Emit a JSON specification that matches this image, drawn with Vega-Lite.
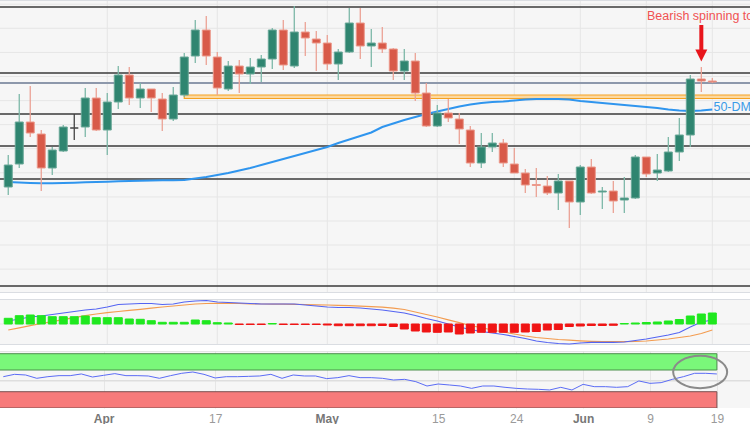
{
"$schema": "https://vega.github.io/schema/vega-lite/v6.json",
"padding": 0,
"background": "#ffffff",
"spacing": 6,
"config": {
  "view": {"fill": "#f6f6f6", "stroke": null},
  "axis": {"gridColor": "#e6e6e6", "gridWidth": 1, "title": null, "domain": false, "ticks": false},
  "font": "Liberation Sans"
},
"datasets": {"d": [
{"i":0,"o":1.3226,"h":1.3290,"l":1.3210,"c":1.3270,"ma":1.3236,"m":0.0003,"s":-0.0006,"hg":0.00057,"r":57.7},
{"i":1,"o":1.3272,"h":1.3412,"l":1.3264,"c":1.3356,"ma":1.3235,"m":0.0005,"s":-0.00038,"hg":0.00083,"r":62.0},
{"i":2,"o":1.3356,"h":1.3428,"l":1.3326,"c":1.3334,"ma":1.3234,"m":0.0007,"s":-0.00017,"hg":0.0009,"r":60.8},
{"i":3,"o":1.3332,"h":1.3340,"l":1.3218,"c":1.3264,"ma":1.32334,"m":0.0008,"s":0.00005,"hg":0.00083,"r":54.7},
{"i":4,"o":1.3264,"h":1.3306,"l":1.3250,"c":1.3300,"ma":1.32334,"m":0.00095,"s":0.00024,"hg":0.00073,"r":57.7},
{"i":5,"o":1.3298,"h":1.3350,"l":1.3296,"c":1.3346,"ma":1.3234,"m":0.0011,"s":0.00043,"hg":0.00073,"r":59.6},
{"i":6,"o":1.3344,"h":1.3372,"l":1.3320,"c":1.3344,"ma":1.32346,"m":0.00125,"s":0.00064,"hg":0.00073,"r":59.6},
{"i":7,"o":1.3346,"h":1.3424,"l":1.3326,"c":1.3404,"ma":1.32354,"m":0.0014,"s":0.00084,"hg":0.0008,"r":62.7},
{"i":8,"o":1.3404,"h":1.3424,"l":1.3338,"c":1.3340,"ma":1.3236,"m":0.0015,"s":0.0010,"hg":0.00063,"r":57.1},
{"i":9,"o":1.3340,"h":1.3414,"l":1.3290,"c":1.3396,"ma":1.32366,"m":0.0017,"s":0.00114,"hg":0.00063,"r":60.2},
{"i":10,"o":1.3396,"h":1.3468,"l":1.3382,"c":1.3450,"ma":1.32374,"m":0.00195,"s":0.00125,"hg":0.00063,"r":63.3},
{"i":11,"o":1.3450,"h":1.3466,"l":1.3390,"c":1.3404,"ma":1.3238,"m":0.0020,"s":0.00136,"hg":0.0005,"r":59.6},
{"i":12,"o":1.3404,"h":1.3434,"l":1.3384,"c":1.3422,"ma":1.32386,"m":0.00205,"s":0.00147,"hg":0.00047,"r":59.6},
{"i":13,"o":1.3422,"h":1.3422,"l":1.3376,"c":1.3404,"ma":1.3239,"m":0.00205,"s":0.00158,"hg":0.00033,"r":59.0},
{"i":14,"o":1.3402,"h":1.3414,"l":1.3338,"c":1.3362,"ma":1.32394,"m":0.00195,"s":0.0017,"hg":0.00017,"r":54.7},
{"i":15,"o":1.3362,"h":1.3426,"l":1.3358,"c":1.3410,"ma":1.32396,"m":0.0020,"s":0.0018,"hg":0.00017,"r":59.6},
{"i":16,"o":1.3410,"h":1.3494,"l":1.3406,"c":1.3486,"ma":1.3240,"m":0.0022,"s":0.0019,"hg":0.00017,"r":63.9},
{"i":17,"o":1.3488,"h":1.3560,"l":1.3474,"c":1.3540,"ma":1.3243,"m":0.0023,"s":0.0020,"hg":0.0004,"r":66.3},
{"i":18,"o":1.3540,"h":1.3568,"l":1.3470,"c":1.3488,"ma":1.3246,"m":0.00235,"s":0.00205,"hg":0.00033,"r":62.0},
{"i":19,"o":1.3486,"h":1.3496,"l":1.3410,"c":1.3424,"ma":1.3250,"m":0.0022,"s":0.00207,"hg":0.00013,"r":55.3},
{"i":20,"o":1.3422,"h":1.3478,"l":1.3418,"c":1.3468,"ma":1.3254,"m":0.00215,"s":0.00207,"hg":0.0001,"r":57.7},
{"i":21,"o":1.3468,"h":1.3480,"l":1.3414,"c":1.3452,"ma":1.3259,"m":0.0021,"s":0.00205,"hg":-0.00005,"r":57.7},
{"i":22,"o":1.3452,"h":1.3484,"l":1.3432,"c":1.3466,"ma":1.3264,"m":0.00205,"s":0.00202,"hg":-0.00005,"r":58.3},
{"i":23,"o":1.3466,"h":1.3490,"l":1.3436,"c":1.3482,"ma":1.3270,"m":0.0020,"s":0.0020,"hg":-0.00005,"r":59.0},
{"i":24,"o":1.3482,"h":1.3544,"l":1.3462,"c":1.3540,"ma":1.3276,"m":0.0020,"s":0.00199,"hg":0.00005,"r":62.0},
{"i":25,"o":1.3540,"h":1.3560,"l":1.3460,"c":1.3470,"ma":1.3282,"m":0.0020,"s":0.00198,"hg":-0.00005,"r":54.7},
{"i":26,"o":1.3468,"h":1.3588,"l":1.3464,"c":1.3536,"ma":1.3288,"m":0.0020,"s":0.00197,"hg":-0.00005,"r":60.8},
{"i":27,"o":1.3536,"h":1.3556,"l":1.3488,"c":1.3524,"ma":1.3294,"m":0.0019,"s":0.00195,"hg":-0.00005,"r":59.0},
{"i":28,"o":1.3522,"h":1.3538,"l":1.3458,"c":1.3514,"ma":1.3300,"m":0.0018,"s":0.00192,"hg":-0.00005,"r":59.0},
{"i":29,"o":1.3514,"h":1.3530,"l":1.3460,"c":1.3472,"ma":1.3306,"m":0.0017,"s":0.0019,"hg":-0.0001,"r":54.1},
{"i":30,"o":1.3472,"h":1.3502,"l":1.3440,"c":1.3496,"ma":1.3314,"m":0.00165,"s":0.00187,"hg":-0.00017,"r":55.9},
{"i":31,"o":1.3496,"h":1.3584,"l":1.3494,"c":1.3554,"ma":1.3321,"m":0.00165,"s":0.00183,"hg":-0.00017,"r":59.6},
{"i":32,"o":1.3554,"h":1.3584,"l":1.3482,"c":1.3508,"ma":1.3328,"m":0.0016,"s":0.00179,"hg":-0.00017,"r":55.9},
{"i":33,"o":1.3508,"h":1.3542,"l":1.3466,"c":1.3514,"ma":1.3335,"m":0.0015,"s":0.00174,"hg":-0.00017,"r":55.9},
{"i":34,"o":1.3514,"h":1.3546,"l":1.3494,"c":1.3502,"ma":1.3346,"m":0.0014,"s":0.00168,"hg":-0.00015,"r":54.7},
{"i":35,"o":1.3502,"h":1.3504,"l":1.3440,"c":1.3458,"ma":1.3353,"m":0.00125,"s":0.00158,"hg":-0.00025,"r":51.6},
{"i":36,"o":1.3458,"h":1.3502,"l":1.3440,"c":1.3478,"ma":1.3360,"m":0.0011,"s":0.00145,"hg":-0.0005,"r":52.8},
{"i":37,"o":1.3478,"h":1.3494,"l":1.3398,"c":1.3414,"ma":1.3366,"m":0.00085,"s":0.0012,"hg":-0.0007,"r":48.5},
{"i":38,"o":1.3414,"h":1.3434,"l":1.3346,"c":1.3348,"ma":1.3372,"m":0.00055,"s":0.00095,"hg":-0.0008,"r":40.5},
{"i":39,"o":1.3348,"h":1.3390,"l":1.3346,"c":1.3374,"ma":1.3377,"m":0.0003,"s":0.0007,"hg":-0.00083,"r":44.2},
{"i":40,"o":1.3374,"h":1.3402,"l":1.3356,"c":1.3364,"ma":1.3382,"m":0.0,"s":0.00042,"hg":-0.0008,"r":42.4},
{"i":41,"o":1.3362,"h":1.3374,"l":1.3312,"c":1.3342,"ma":1.3387,"m":-0.0003,"s":0.00013,"hg":-0.001,"r":40.5},
{"i":42,"o":1.3340,"h":1.3348,"l":1.3266,"c":1.3274,"ma":1.3391,"m":-0.00055,"s":-0.00015,"hg":-0.0009,"r":36.2},
{"i":43,"o":1.3274,"h":1.3334,"l":1.3264,"c":1.3306,"ma":1.3394,"m":-0.00075,"s":-0.00037,"hg":-0.00083,"r":40.5},
{"i":44,"o":1.3306,"h":1.3334,"l":1.3296,"c":1.3314,"ma":1.3396,"m":-0.0009,"s":-0.0006,"hg":-0.00083,"r":40.5},
{"i":45,"o":1.3314,"h":1.3322,"l":1.3266,"c":1.3274,"ma":1.3397,"m":-0.00105,"s":-0.0008,"hg":-0.00083,"r":38.1},
{"i":46,"o":1.3272,"h":1.3304,"l":1.3254,"c":1.3254,"ma":1.3399,"m":-0.00125,"s":-0.001,"hg":-0.00083,"r":36.2},
{"i":47,"o":1.3254,"h":1.3262,"l":1.3214,"c":1.3230,"ma":1.3401,"m":-0.00145,"s":-0.0012,"hg":-0.0008,"r":35.0},
{"i":48,"o":1.3231,"h":1.3264,"l":1.3206,"c":1.3229,"ma":1.3402,"m":-0.0017,"s":-0.00135,"hg":-0.00075,"r":34.4},
{"i":49,"o":1.3228,"h":1.3248,"l":1.3210,"c":1.3214,"ma":1.3402,"m":-0.00185,"s":-0.00145,"hg":-0.0006,"r":33.2},
{"i":50,"o":1.3214,"h":1.3252,"l":1.3180,"c":1.3238,"ma":1.3402,"m":-0.00195,"s":-0.00155,"hg":-0.00055,"r":38.1},
{"i":51,"o":1.3238,"h":1.3238,"l":1.3144,"c":1.3196,"ma":1.3401,"m":-0.0020,"s":-0.00162,"hg":-0.00025,"r":33.2},
{"i":52,"o":1.3196,"h":1.3270,"l":1.3170,"c":1.3266,"ma":1.3398,"m":-0.0019,"s":-0.00168,"hg":-0.0002,"r":43.6},
{"i":53,"o":1.3266,"h":1.3282,"l":1.3212,"c":1.3214,"ma":1.3396,"m":-0.00183,"s":-0.00173,"hg":-0.00015,"r":39.3},
{"i":54,"o":1.3216,"h":1.3226,"l":1.3182,"c":1.3218,"ma":1.3394,"m":-0.00183,"s":-0.00177,"hg":-0.00015,"r":39.3},
{"i":55,"o":1.3218,"h":1.3238,"l":1.3174,"c":1.3198,"ma":1.3392,"m":-0.00183,"s":-0.00177,"hg":-0.00013,"r":38.1},
{"i":56,"o":1.3200,"h":1.3246,"l":1.3174,"c":1.3204,"ma":1.3390,"m":-0.0018,"s":-0.00177,"hg":0.00005,"r":39.3},
{"i":57,"o":1.3204,"h":1.3290,"l":1.3202,"c":1.3286,"ma":1.3388,"m":-0.00165,"s":-0.00175,"hg":0.0001,"r":49.8},
{"i":58,"o":1.3286,"h":1.3286,"l":1.3246,"c":1.3252,"ma":1.3386,"m":-0.0015,"s":-0.0017,"hg":0.00015,"r":45.4},
{"i":59,"o":1.3254,"h":1.3292,"l":1.3238,"c":1.3260,"ma":1.3384,"m":-0.0013,"s":-0.0016,"hg":0.0002,"r":46.7},
{"i":60,"o":1.3258,"h":1.3326,"l":1.3256,"c":1.3296,"ma":1.3381,"m":-0.0011,"s":-0.0015,"hg":0.0003,"r":52.8},
{"i":61,"o":1.3296,"h":1.3364,"l":1.3278,"c":1.3330,"ma":1.3379,"m":-0.00085,"s":-0.00135,"hg":0.00045,"r":57.7},
{"i":62,"o":1.3330,"h":1.3450,"l":1.3306,"c":1.3442,"ma":1.3378,"m":-0.0003,"s":-0.0012,"hg":0.0008,"r":63.9},
{"i":63,"o":1.3442,"h":1.3466,"l":1.3416,"c":1.3438,"ma":1.3379,"m":0.0002,"s":-0.00095,"hg":0.001,"r":63.9},
{"i":64,"o":1.3438,"h":1.3444,"l":1.3434,"c":1.3436,"ma":1.3381,"m":0.0004,"s":-0.0006,"hg":0.0011,"r":62.7}
],
"vg": [{"g":9},{"g":19},{"g":29},{"g":39},{"g":46},{"g":52},{"g":58},{"g":64}]
},
"vconcat": [
{
  "width": 750, "height": 293,
  "data": {"name": "d"},
  "layer": [
    {"data": {"values": [{"p":1.35916},{"p":1.35434},{"p":1.34952},{"p":1.3447},{"p":1.33988},{"p":1.33508},{"p":1.33026},{"p":1.32544},{"p":1.32062},{"p":1.3158},{"p":1.311},{"p":1.30618}]},
     "mark": {"type": "rule", "color": "#e6e6e6", "strokeWidth": 1, "clip": true},
     "encoding": {"y": {"field": "p", "type": "quantitative", "scale": {"domain": [1.3014, 1.36], "nice": false, "zero": false}, "axis": null}}},
    {"data": {"name": "vg"},
     "mark": {"type": "rule", "color": "#e6e6e6", "strokeWidth": 1, "clip": true},
     "encoding": {"x": {"field": "g", "type": "quantitative", "scale": {"domain": [-0.296, 66.97], "nice": false, "zero": false}, "axis": null}}},
    {"data": {"values": [{"p":1.36},{"p":1.3014}]},
     "mark": {"type": "rule", "color": "#dadde2", "strokeWidth": 2, "clip": true},
     "encoding": {"y": {"field": "p", "type": "quantitative", "scale": {"domain": [1.3014, 1.36], "nice": false, "zero": false}, "axis": null}}},
    {"data": {"values": [{"p":1.3586},{"p":1.3454},{"p":1.3372},{"p":1.3308},{"p":1.3242},{"p":1.3028}]},
     "mark": {"type": "rule", "color": "#3a3a3a", "strokeWidth": 1.3, "clip": true},
     "encoding": {"y": {"field": "p", "type": "quantitative", "scale": {"domain": [1.3014, 1.36], "nice": false, "zero": false}, "axis": null}}},
    {"data": {"values": [{"p":1.3434}]},
     "mark": {"type": "rule", "color": "#8d98ab", "strokeWidth": 2, "clip": true},
     "encoding": {"y": {"field": "p", "type": "quantitative", "scale": {"domain": [1.3014, 1.36], "nice": false, "zero": false}, "axis": null}}},
    {"data": {"values": [{"a":16,"b":70,"p1":1.3403,"p2":1.3410}]},
     "mark": {"type": "rect", "fill": "#fcd9a0", "stroke": "#f5a121", "strokeWidth": 1.2, "clip": true},
     "encoding": {
       "x": {"field": "a", "type": "quantitative", "scale": {"domain": [-0.296, 66.97], "nice": false, "zero": false}, "axis": null},
       "x2": {"field": "b"},
       "y": {"field": "p1", "type": "quantitative", "scale": {"domain": [1.3014, 1.36], "nice": false, "zero": false}, "axis": null},
       "y2": {"field": "p2"}}},
    {"mark": {"type": "line", "color": "#2f95ee", "strokeWidth": 2, "clip": true},
     "encoding": {
       "x": {"field": "i", "type": "quantitative", "scale": {"domain": [-0.296, 66.97], "nice": false, "zero": false}, "axis": null},
       "y": {"field": "ma", "type": "quantitative", "scale": {"domain": [1.3014, 1.36], "nice": false, "zero": false}, "axis": null}}},
    {"mark": {"type": "rule", "strokeWidth": 1.3, "clip": true},
     "encoding": {
       "x": {"field": "i", "type": "quantitative", "scale": {"domain": [-0.296, 66.97], "nice": false, "zero": false}, "axis": null},
       "y": {"field": "l", "type": "quantitative", "scale": {"domain": [1.3014, 1.36], "nice": false, "zero": false}, "axis": null},
       "y2": {"field": "h"},
       "color": {"condition": [{"test": "datum.c > datum.o", "value": "#7db8a8"}, {"test": "datum.c < datum.o", "value": "#eba295"}], "value": "#444444"}}},
    {"mark": {"type": "bar", "width": 8, "strokeWidth": 1, "clip": true},
     "encoding": {
       "x": {"field": "i", "type": "quantitative", "scale": {"domain": [-0.296, 66.97], "nice": false, "zero": false}, "axis": null},
       "y": {"field": "o", "type": "quantitative", "scale": {"domain": [1.3014, 1.36], "nice": false, "zero": false}, "axis": null},
       "y2": {"field": "c"},
       "fill": {"condition": [{"test": "datum.c > datum.o", "value": "#2f8570"}, {"test": "datum.c < datum.o", "value": "#d85a49"}], "value": "#444444"},
       "stroke": {"condition": [{"test": "datum.c > datum.o", "value": "#6aa898"}, {"test": "datum.c < datum.o", "value": "#ec9a8c"}], "value": "#444444"}}},
    {"data": {"values": [{"i":63,"p1":1.3550,"p2":1.3500}]},
     "mark": {"type": "rule", "color": "#e8151b", "strokeWidth": 4, "clip": true},
     "encoding": {
       "x": {"field": "i", "type": "quantitative", "scale": {"domain": [-0.296, 66.97], "nice": false, "zero": false}, "axis": null},
       "y": {"field": "p1", "type": "quantitative", "scale": {"domain": [1.3014, 1.36], "nice": false, "zero": false}, "axis": null},
       "y2": {"field": "p2"}}},
    {"data": {"values": [{"i":63,"p":1.3489}]},
     "mark": {"type": "point", "shape": "M-1,-1L1,-1L0,1Z", "size": 144, "filled": true, "color": "#e8151b", "opacity": 1, "clip": true},
     "encoding": {
       "x": {"field": "i", "type": "quantitative", "scale": {"domain": [-0.296, 66.97], "nice": false, "zero": false}, "axis": null},
       "y": {"field": "p", "type": "quantitative", "scale": {"domain": [1.3014, 1.36], "nice": false, "zero": false}, "axis": null}}},
    {"data": {"values": [{"i":58.06,"p":1.3568,"t":"Bearish spinning top","k":"a"},{"i":64.1,"p":1.3386,"t":"50-DMA","k":"b"}]},
     "mark": {"type": "text", "align": "left", "baseline": "middle", "fontSize": 12.5, "clip": true},
     "encoding": {
       "x": {"field": "i", "type": "quantitative", "scale": {"domain": [-0.296, 66.97], "nice": false, "zero": false}, "axis": null},
       "y": {"field": "p", "type": "quantitative", "scale": {"domain": [1.3014, 1.36], "nice": false, "zero": false}, "axis": null},
       "text": {"field": "t"},
       "color": {"field": "k", "type": "nominal", "scale": {"domain": ["a","b"], "range": ["#f05252","#3a9be8"]}, "legend": null}}}
  ]
},
{
  "width": 750, "height": 46,
  "data": {"name": "d"},
  "layer": [
    {"data": {"name": "vg"},
     "mark": {"type": "rule", "color": "#e6e6e6", "strokeWidth": 1, "clip": true},
     "encoding": {"x": {"field": "g", "type": "quantitative", "scale": {"domain": [-0.296, 66.97], "nice": false, "zero": false}, "axis": null}}},
    {"data": {"values": [{"v":0.0025},{"v":-0.0021}]},
     "mark": {"type": "rule", "color": "#dadde2", "strokeWidth": 2, "clip": true},
     "encoding": {"y": {"field": "v", "type": "quantitative", "scale": {"domain": [-0.0021, 0.0025], "nice": false, "zero": false}, "axis": null}}},
    {"data": {"values": [{"v":0}]},
     "mark": {"type": "rule", "color": "#e6e6e6", "strokeWidth": 1, "clip": true},
     "encoding": {"y": {"field": "v", "type": "quantitative", "scale": {"domain": [-0.0021, 0.0025], "nice": false, "zero": false}, "axis": null}}},
    {"mark": {"type": "line", "color": "#f39c50", "strokeWidth": 1.2, "clip": true},
     "encoding": {
       "x": {"field": "i", "type": "quantitative", "scale": {"domain": [-0.296, 66.97], "nice": false, "zero": false}, "axis": null},
       "y": {"field": "s", "type": "quantitative", "scale": {"domain": [-0.0021, 0.0025], "nice": false, "zero": false}, "axis": null}}},
    {"mark": {"type": "line", "color": "#5464f2", "strokeWidth": 1.2, "clip": true},
     "encoding": {
       "x": {"field": "i", "type": "quantitative", "scale": {"domain": [-0.296, 66.97], "nice": false, "zero": false}, "axis": null},
       "y": {"field": "m", "type": "quantitative", "scale": {"domain": [-0.0021, 0.0025], "nice": false, "zero": false}, "axis": null}}},
    {"mark": {"type": "bar", "width": 8, "strokeWidth": 1, "clip": true},
     "encoding": {
       "x": {"field": "i", "type": "quantitative", "scale": {"domain": [-0.296, 66.97], "nice": false, "zero": false}, "axis": null},
       "y": {"field": "hg", "type": "quantitative", "scale": {"domain": [-0.0021, 0.0025], "nice": false, "zero": false}, "axis": null},
       "y2": {"datum": 0},
       "fill": {"condition": {"test": "datum.hg >= 0", "value": "#1fe81f"}, "value": "#f01414"},
       "stroke": {"condition": {"test": "datum.hg >= 0", "value": "#1fe81f"}, "value": "#f01414"}}}
  ]
},
{
  "width": 750, "height": 57,
  "data": {"name": "d"},
  "layer": [
    {"data": {"values": [{"v":105},{"v":50}]},
     "mark": {"type": "rule", "color": "#dedede", "strokeWidth": 1.5, "clip": true},
     "encoding": {"y": {"field": "v", "type": "quantitative", "scale": {"domain": [0, 105], "nice": false, "zero": false}, "axis": null}}},
    {"data": {"values": [{"a":-2,"b":64,"lo":70,"hi":100,"z":"ob"},{"a":-2,"b":64,"lo":0,"hi":30,"z":"os"}]},
     "mark": {"type": "rect", "strokeWidth": 1, "clip": true},
     "encoding": {
       "x": {"field": "a", "type": "quantitative", "scale": {"domain": [-0.296, 66.97], "nice": false, "zero": false},
          "axis": {"values": [9,19,29,39,46,52,58,64], "grid": true, "labelPadding": 5, "labelFontSize": 12,
            "labelExpr": "datum.value==9?'Apr':datum.value==19?'17':datum.value==29?'May':datum.value==39?'15':datum.value==46?'24':datum.value==52?'Jun':datum.value==58?'9':'19'",
            "labelColor": {"condition": {"test": "datum.value==9||datum.value==29||datum.value==52", "value": "#777777"}, "value": "#9a9a9a"},
            "labelFontWeight": {"condition": {"test": "datum.value==9||datum.value==29||datum.value==52", "value": "bold"}, "value": "normal"}}},
       "x2": {"field": "b"},
       "y": {"field": "lo", "type": "quantitative", "scale": {"domain": [0, 105], "nice": false, "zero": false}, "axis": null},
       "y2": {"field": "hi"},
       "fill": {"field": "z", "type": "nominal", "scale": {"domain": ["ob","os"], "range": ["#7af77a","#f77a7a"]}, "legend": null},
       "stroke": {"field": "z", "type": "nominal", "scale": {"domain": ["ob","os"], "range": ["#4c8f4c","#7a5050"]}, "legend": null}}},
    {"mark": {"type": "line", "color": "#5b6cf5", "strokeWidth": 1, "clip": true},
     "encoding": {
       "x": {"field": "i", "type": "quantitative", "scale": {"domain": [-0.296, 66.97], "nice": false, "zero": false}},
       "y": {"field": "r", "type": "quantitative", "scale": {"domain": [0, 105], "nice": false, "zero": false}, "axis": null}}},
    {"data": {"values": [{"i":62.5,"r":66.3}]},
     "mark": {"type": "point", "shape": "M-1,0A1,0.6,0,1,1,1,0A1,0.6,0,1,1,-1,0Z", "size": 2916, "filled": false, "stroke": "#8a8a8a", "strokeWidth": 2, "opacity": 1, "clip": true},
     "encoding": {
       "x": {"field": "i", "type": "quantitative", "scale": {"domain": [-0.296, 66.97], "nice": false, "zero": false}},
       "y": {"field": "r", "type": "quantitative", "scale": {"domain": [0, 105], "nice": false, "zero": false}, "axis": null}}}
  ]
}
]
}
